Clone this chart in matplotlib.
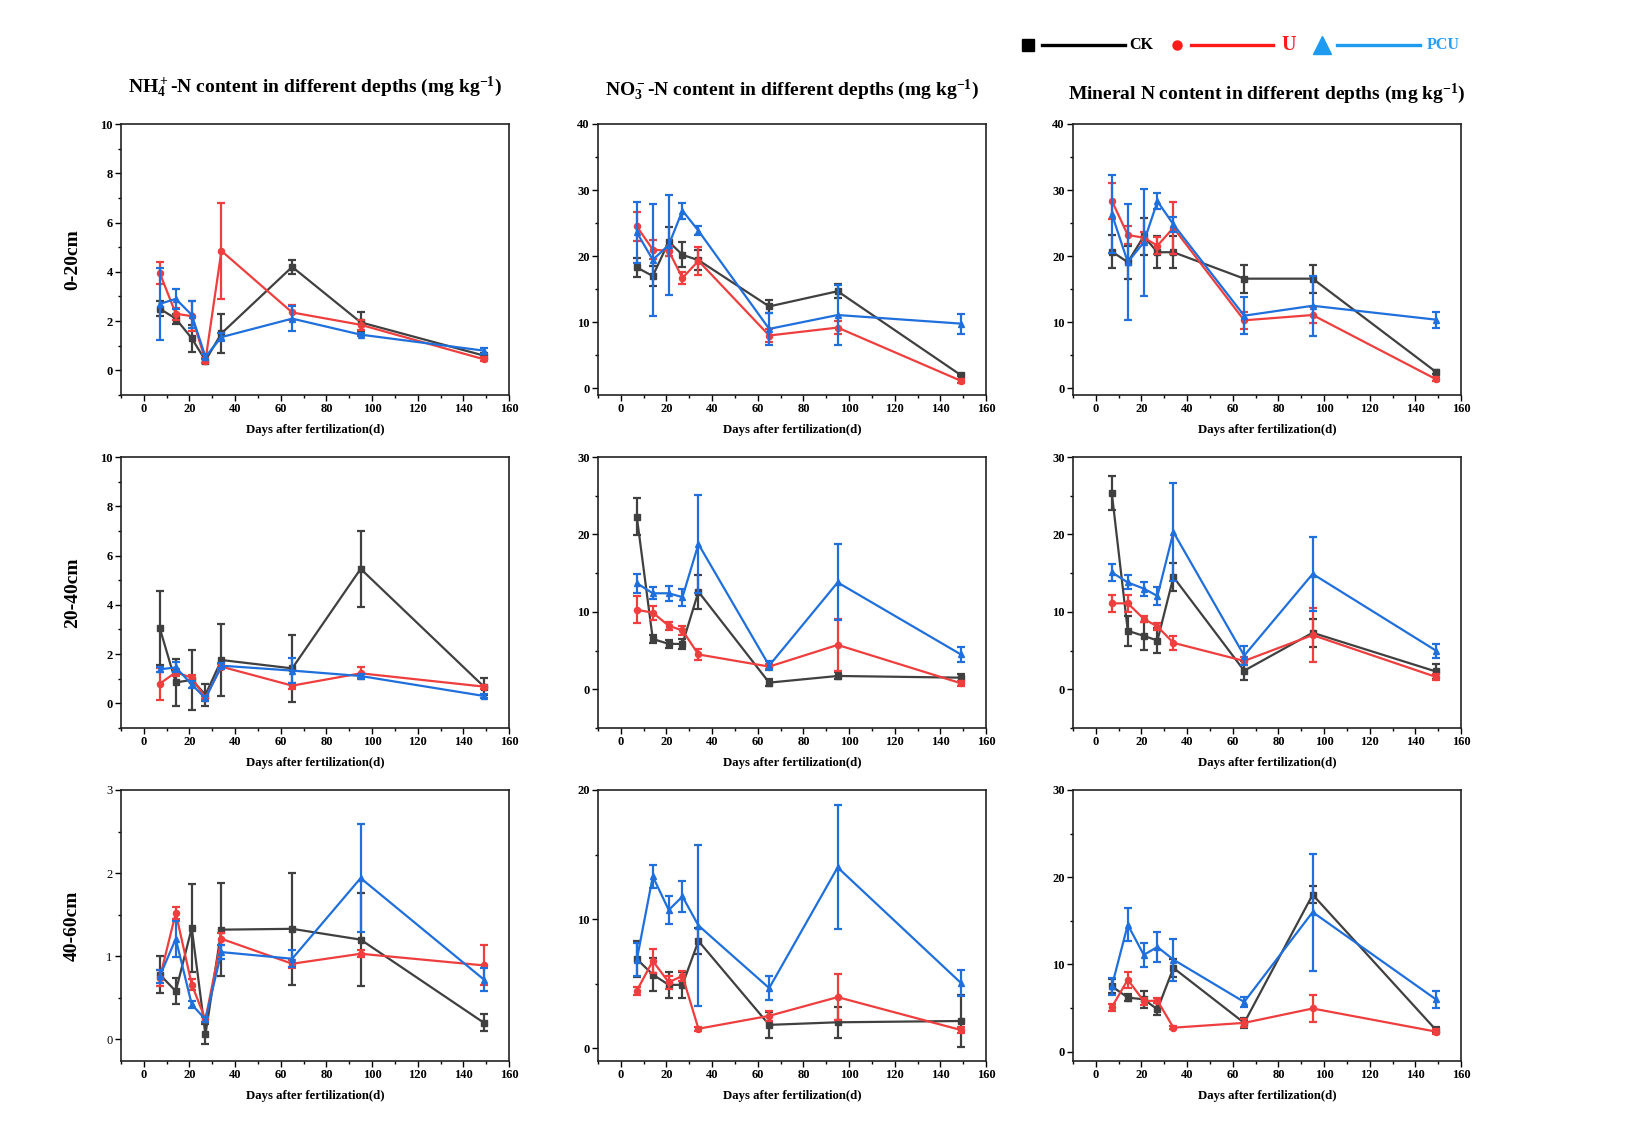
import matplotlib
matplotlib.use("Agg")
import matplotlib.pyplot as plt
from matplotlib.lines import Line2D
from matplotlib.ticker import MultipleLocator

plt.rcParams['font.family'] = ['Liberation Serif', 'DejaVu Serif']
plt.rcParams['mathtext.fontset'] = 'custom'
plt.rcParams['mathtext.rm'] = 'Liberation Serif:bold'
plt.rcParams['mathtext.it'] = 'Liberation Serif:bold'
plt.rcParams['mathtext.bf'] = 'Liberation Serif:bold'

# ---------------- data ----------------
days = [7, 14, 21, 27, 34, 65, 95, 149]
treatments = ["CK", "U", "PCU"]
depths = ["0-20cm", "20-40cm", "40-60cm"]
titles = ["NH$_4^+$-N content in different depths (mg kg$^{-1}$)",
          "NO$_3^-$-N content in different depths (mg kg$^{-1}$)",
          "Mineral N content in different depths (mg kg$^{-1}$)"]

# NH4+-N 0-20 cm
nh4_d1_ck = [2.5, 2.1, 1.3, 0.4, 1.5, 4.2, 1.95, 0.6]
nh4_d1_ck_err = [0.3, 0.2, 0.55, 0.1, 0.78, 0.3, 0.4, 0.1]
nh4_d1_u = [3.95, 2.3, 2.2, 0.4, 4.85, 2.35, 1.85, 0.45]
nh4_d1_u_err = [0.45, 0.25, 0.6, 0.1, 1.95, 0.3, 0.2, 0.08]
nh4_d1_pcu = [2.7, 2.9, 2.25, 0.55, 1.35, 2.1, 1.45, 0.8]
nh4_d1_pcu_err = [1.45, 0.4, 0.55, 0.1, 0.15, 0.5, 0.07, 0.12]

# NO3--N 0-20 cm
no3_d1_ck = [18.3, 17.0, 22.2, 20.2, 19.4, 12.4, 14.7, 2.0]
no3_d1_ck_err = [1.5, 1.5, 2.2, 1.9, 1.5, 1.0, 1.1, 0.2]
no3_d1_u = [24.5, 21.0, 20.8, 16.7, 19.3, 8.0, 9.2, 1.15]
no3_d1_u_err = [2.2, 1.4, 0.7, 0.9, 2.1, 1.0, 1.0, 0.3]
no3_d1_pcu = [23.6, 19.45, 21.7, 26.9, 23.85, 9.0, 11.1, 9.8]
no3_d1_pcu_err = [4.6, 8.45, 7.6, 1.2, 0.7, 2.4, 4.5, 1.5]

# Mineral N 0-20 cm
min_d1_ck = [20.7, 19.1, 23.0, 20.6, 20.6, 16.6, 16.6, 2.5]
min_d1_ck_err = [2.5, 2.5, 2.8, 2.4, 2.4, 2.1, 2.1, 0.3]
min_d1_u = [28.4, 23.2, 22.8, 21.6, 24.3, 10.3, 11.1, 1.4]
min_d1_u_err = [2.7, 1.3, 0.8, 1.3, 3.9, 1.3, 1.2, 0.3]
min_d1_pcu = [26.4, 19.1, 22.1, 28.3, 24.8, 11.0, 12.5, 10.4]
min_d1_pcu_err = [5.9, 8.8, 8.1, 1.2, 1.2, 2.8, 4.5, 1.2]

# NH4+-N 20-40 cm
nh4_d2_ck = [3.05, 0.85, 0.95, 0.35, 1.76, 1.42, 5.46, 0.68]
nh4_d2_ck_err = [1.5, 0.95, 1.2, 0.45, 1.45, 1.35, 1.55, 0.35]
nh4_d2_u = [0.8, 1.26, 1.04, 0.23, 1.49, 0.72, 1.22, 0.68]
nh4_d2_u_err = [0.65, 0.15, 0.1, 0.05, 0.1, 0.12, 0.25, 0.08]
nh4_d2_pcu = [1.38, 1.46, 0.77, 0.2, 1.53, 1.33, 1.11, 0.3]
nh4_d2_pcu_err = [0.1, 0.2, 0.15, 0.1, 0.1, 0.5, 0.08, 0.07]

# NO3--N 20-40 cm
no3_d2_ck = [22.3, 6.5, 5.86, 5.86, 12.6, 0.86, 1.72, 1.5]
no3_d2_ck_err = [2.4, 0.5, 0.5, 0.6, 2.2, 0.45, 0.45, 0.5]
no3_d2_u = [10.26, 9.9, 8.2, 7.6, 4.5, 2.93, 5.73, 0.78]
no3_d2_u_err = [1.75, 0.9, 0.5, 0.6, 0.7, 0.3, 3.4, 0.3]
no3_d2_pcu = [13.7, 12.4, 12.4, 11.9, 18.75, 3.06, 13.8, 4.5]
no3_d2_pcu_err = [1.2, 0.8, 1.0, 1.1, 6.3, 0.6, 4.9, 1.0]

# Mineral N 20-40 cm
min_d2_ck = [25.35, 7.55, 6.9, 6.3, 14.5, 2.4, 7.3, 2.3]
min_d2_ck_err = [2.2, 1.9, 1.8, 1.6, 1.8, 1.2, 1.8, 1.0]
min_d2_u = [11.1, 11.1, 9.1, 8.1, 6.0, 3.66, 7.0, 1.6]
min_d2_u_err = [1.1, 1.1, 0.4, 0.4, 0.9, 0.5, 3.5, 0.4]
min_d2_pcu = [15.1, 13.8, 13.0, 12.05, 20.3, 4.35, 14.9, 5.0]
min_d2_pcu_err = [1.1, 0.9, 0.9, 1.2, 6.3, 1.2, 4.8, 0.9]

# NH4+-N 40-60 cm
nh4_d3_ck = [0.78, 0.58, 1.34, 0.06, 1.32, 1.33, 1.2, 0.2]
nh4_d3_ck_err = [0.22, 0.16, 0.53, 0.12, 0.56, 0.67, 0.56, 0.1]
nh4_d3_u = [0.74, 1.52, 0.66, 0.24, 1.21, 0.91, 1.03, 0.89]
nh4_d3_u_err = [0.1, 0.07, 0.07, 0.03, 0.07, 0.05, 0.04, 0.24]
nh4_d3_pcu = [0.76, 1.21, 0.42, 0.24, 1.05, 0.97, 1.94, 0.72]
nh4_d3_pcu_err = [0.08, 0.22, 0.04, 0.03, 0.08, 0.1, 0.65, 0.14]

# NO3--N 40-60 cm
no3_d3_ck = [6.9, 5.7, 4.9, 4.9, 8.3, 1.8, 2.0, 2.1]
no3_d3_ck_err = [1.4, 1.3, 1.0, 1.0, 1.0, 1.0, 1.2, 2.0]
no3_d3_u = [4.45, 6.75, 5.1, 5.6, 1.5, 2.5, 3.95, 1.4]
no3_d3_u_err = [0.3, 0.9, 0.5, 0.4, 0.15, 0.4, 1.8, 0.2]
no3_d3_pcu = [6.85, 13.3, 10.7, 11.75, 9.5, 4.65, 14.0, 5.05]
no3_d3_pcu_err = [1.3, 0.9, 1.1, 1.2, 6.2, 0.9, 4.8, 1.0]

# Mineral N 40-60 cm
min_d3_ck = [7.5, 6.2, 6.0, 4.85, 9.6, 3.3, 18.0, 2.5]
min_d3_ck_err = [0.8, 0.4, 1.0, 0.7, 1.0, 0.6, 1.0, 0.3]
min_d3_u = [5.1, 8.25, 5.8, 5.85, 2.75, 3.3, 4.95, 2.3]
min_d3_u_err = [0.4, 0.9, 0.4, 0.3, 0.2, 0.5, 1.6, 0.3]
min_d3_pcu = [7.5, 14.55, 11.1, 12.0, 10.55, 5.7, 16.0, 6.0]
min_d3_pcu_err = [1.0, 1.9, 1.4, 1.7, 2.4, 0.6, 6.7, 1.0]

panels = [
    [(nh4_d1_ck, nh4_d1_ck_err, nh4_d1_u, nh4_d1_u_err, nh4_d1_pcu, nh4_d1_pcu_err),
     (no3_d1_ck, no3_d1_ck_err, no3_d1_u, no3_d1_u_err, no3_d1_pcu, no3_d1_pcu_err),
     (min_d1_ck, min_d1_ck_err, min_d1_u, min_d1_u_err, min_d1_pcu, min_d1_pcu_err)],
    [(nh4_d2_ck, nh4_d2_ck_err, nh4_d2_u, nh4_d2_u_err, nh4_d2_pcu, nh4_d2_pcu_err),
     (no3_d2_ck, no3_d2_ck_err, no3_d2_u, no3_d2_u_err, no3_d2_pcu, no3_d2_pcu_err),
     (min_d2_ck, min_d2_ck_err, min_d2_u, min_d2_u_err, min_d2_pcu, min_d2_pcu_err)],
    [(nh4_d3_ck, nh4_d3_ck_err, nh4_d3_u, nh4_d3_u_err, nh4_d3_pcu, nh4_d3_pcu_err),
     (no3_d3_ck, no3_d3_ck_err, no3_d3_u, no3_d3_u_err, no3_d3_pcu, no3_d3_pcu_err),
     (min_d3_ck, min_d3_ck_err, min_d3_u, min_d3_u_err, min_d3_pcu, min_d3_pcu_err)],
]

# y-axis settings (ymin, ymax, major, minor)
ylims = [[(-1, 10, 2, 1), (-1, 40, 10, 5), (-1, 40, 10, 5)],
         [(-1, 10, 2, 1), (-5, 30, 10, 5), (-5, 30, 10, 5)],
         [(-0.26, 3, 1, 0.5), (-1, 20, 10, 5), (-1.07, 30, 10, 5)]]

# ---------------- style ----------------
colors = ['#404040', '#EE3E3E', '#1F6FDC']
markers = ['s', 'o', '^']

W, H = 1640, 1145
fig = plt.figure(figsize=(W / 100, H / 100), dpi=100)

lefts = [121, 598, 1073]
tops = [124, 457, 790]
aw, ah = 388, 271

for r in range(3):
    for c in range(3):
        ax = fig.add_axes([lefts[c] / W, 1 - (tops[r] + ah) / H, aw / W, ah / H])
        data = panels[r][c]
        for k in range(3):
            vals, errs = data[2 * k], data[2 * k + 1]
            ax.errorbar(days, vals, yerr=errs, color=colors[k], marker=markers[k],
                        markersize=4.4, linewidth=1.6, elinewidth=1.6, capsize=2.8,
                        capthick=1.6, zorder=3 + k)
        y0, y1, maj, mnr = ylims[r][c]
        ax.set_xlim(-10, 160)
        ax.set_ylim(y0, y1)
        ax.xaxis.set_major_locator(MultipleLocator(20))
        ax.xaxis.set_minor_locator(MultipleLocator(10))
        ax.yaxis.set_major_locator(MultipleLocator(maj))
        ax.yaxis.set_minor_locator(MultipleLocator(mnr))
        ax.tick_params(which='major', direction='out', length=4, width=1,
                       labelsize=9, pad=2)
        ax.tick_params(which='minor', direction='out', length=2.5, width=1)
        for lab in ax.get_xticklabels() + ax.get_yticklabels():
            lab.set_fontweight('bold')
        if r == 2 and c == 0:
            for lab in ax.get_yticklabels():
                lab.set_fontweight('normal')
        for sp in ax.spines.values():
            sp.set_linewidth(1.2)
            sp.set_color('#222222')
        ax.set_xlabel("Days after fertilization(d)", fontsize=9.2,
                      fontweight='bold', labelpad=6)
        if c == 0:
            ax.text(-0.125, 0.5, depths[r], transform=ax.transAxes, rotation=90,
                    ha='center', va='center', fontsize=14, fontweight='bold')
        if r == 0:
            ax.text(0.5, 1.135 - 0.012 * c, titles[c], transform=ax.transAxes,
                    ha='center', va='center', fontsize=14, fontweight='bold')

# ---------------- legend (figure level) ----------------
ly = 1 - 45 / H
leg_cols = ['black', '#FF1A1A', '#1E9BF0']
leg_text_cols = ['black', '#FF1A1A', '#2A9DF4']
mx = [1028, 1177, 1322]
lx = [(1042, 1125), (1191, 1273), (1337, 1420)]
tx = [1129, 1281, 1427]
msz = [8, 6.5, 13]
tsz = [11.5, 14.5, 11.5]
for k in range(3):
    fig.add_artist(Line2D([mx[k] / W], [ly], marker=markers[k], color=leg_cols[k],
                          markersize=msz[k], linestyle='none', transform=fig.transFigure))
    fig.add_artist(Line2D([lx[k][0] / W, lx[k][1] / W], [ly, ly], color=leg_cols[k],
                          linewidth=2.4, transform=fig.transFigure))
    fig.text(tx[k] / W, ly, treatments[k], color=leg_text_cols[k], fontsize=tsz[k],
             fontweight='bold', ha='left', va='center')

fig.savefig("out.png", dpi=100)
